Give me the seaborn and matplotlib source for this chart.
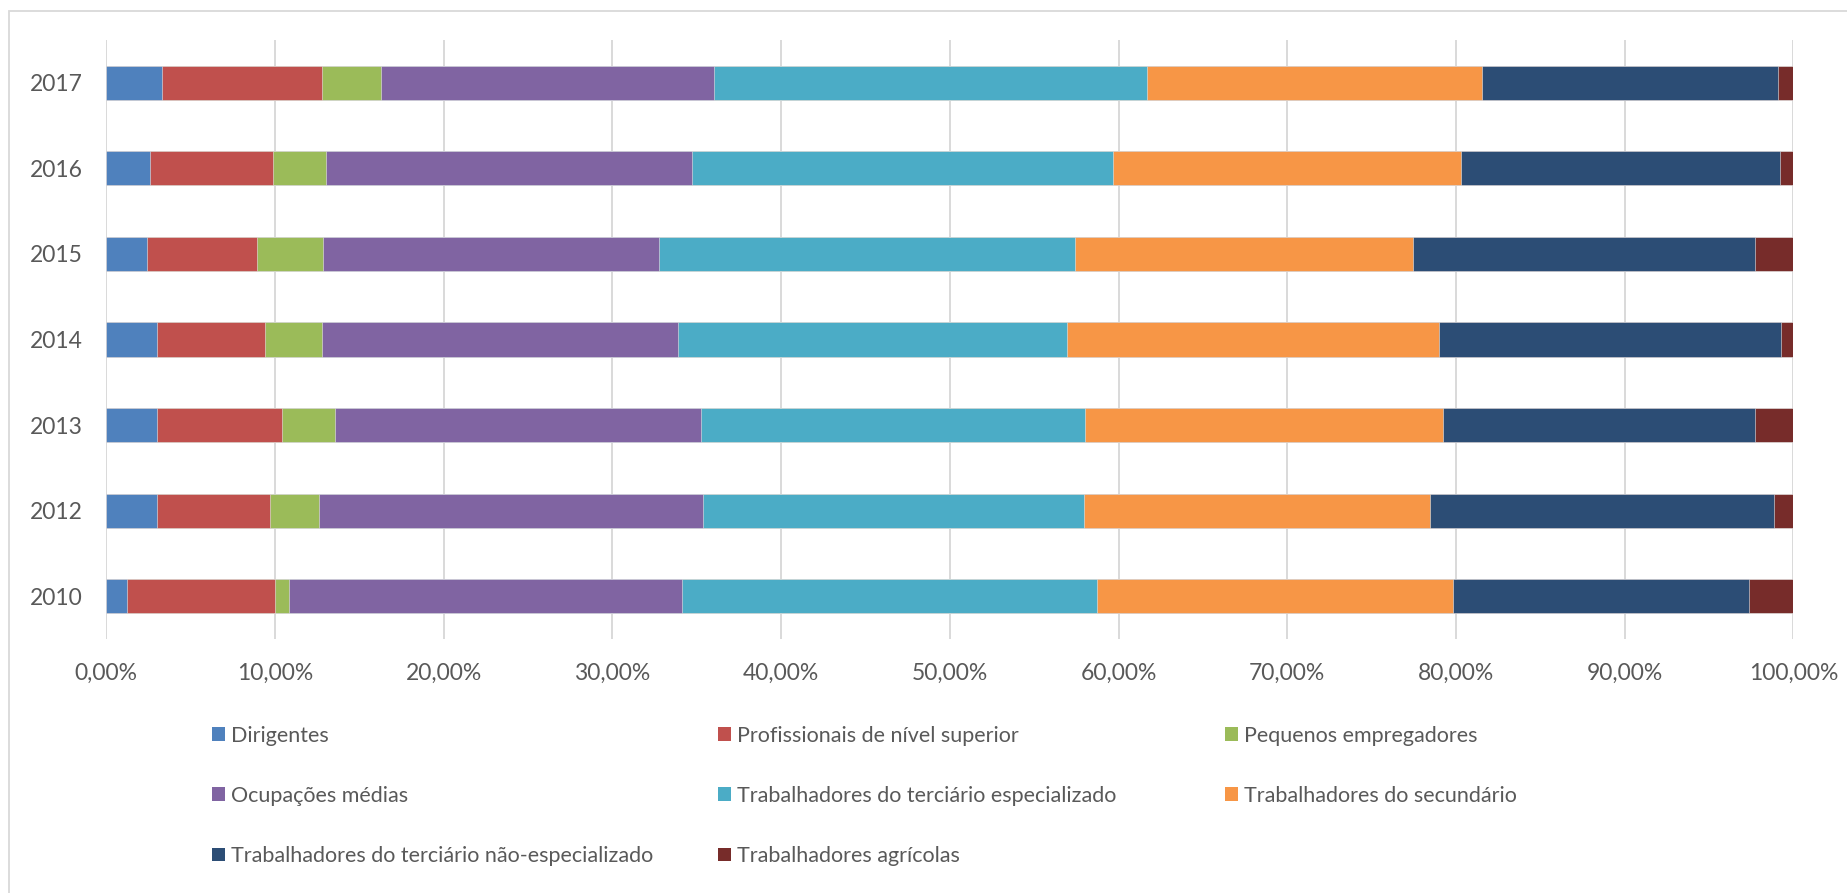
import numpy as np
import pandas as pd
import matplotlib
matplotlib.use("Agg")
import matplotlib.pyplot as plt
import seaborn as sns
from matplotlib.patches import Patch, Rectangle
from matplotlib.ticker import FuncFormatter, MultipleLocator

# ---------------- data ----------------
years = ["2017", "2016", "2015", "2014", "2013", "2012", "2010"]
series_names = [
    "Dirigentes",
    "Profissionais de nível superior",
    "Pequenos empregadores",
    "Ocupações médias",
    "Trabalhadores do terciário especializado",
    "Trabalhadores do secundário",
    "Trabalhadores do terciário não-especializado",
    "Trabalhadores agrícolas",
]
dirigentes = [3.33, 2.61, 2.42, 2.98, 2.98, 3.03, 1.20]
profissionais = [9.46, 7.27, 6.52, 6.43, 7.44, 6.69, 8.80]
pequenos = [3.50, 3.12, 3.90, 3.38, 3.15, 2.89, 0.85]
ocupacoes = [19.71, 21.73, 19.95, 21.12, 21.70, 22.78, 23.25]
terc_esp = [25.69, 24.94, 24.63, 23.02, 22.76, 22.57, 24.61]
secundario = [19.84, 20.62, 20.03, 22.09, 21.18, 20.52, 21.14]
terc_nao = [17.59, 18.93, 20.30, 20.27, 18.54, 20.35, 17.54]
agricolas = [0.88, 0.78, 2.25, 0.71, 2.25, 1.17, 2.61]

colors = ["#4F81BD", "#C0504D", "#9BBB59", "#8064A2",
          "#4BACC6", "#F79646", "#2C4D75", "#772C2A"]

values = [dirigentes, profissionais, pequenos, ocupacoes,
          terc_esp, secundario, terc_nao, agricolas]

df = pd.DataFrame({"year": years})
cum = np.zeros(len(years))
cum_cols = []
for i, v in enumerate(values):
    cum = cum + np.array(v)
    col = f"cum{i}"
    df[col] = cum
    cum_cols.append(col)

# ---------------- style ----------------
sns.set_theme(style="white")
plt.rcParams["font.family"] = ["Lato", "DejaVu Sans"]
text_color = "#595959"
grid_color = "#D9D9D9"

W, H = 1847, 893
fig = plt.figure(figsize=(W / 100, H / 100), dpi=100)
fig.patch.set_facecolor("white")
ax = fig.add_axes([106.3 / W, 1 - 639 / H, (1793.3 - 106.3) / W, (639 - 40) / H])

# stacked bars: draw cumulative totals from the last series to the first
for i in range(len(values) - 1, -1, -1):
    sns.barplot(data=df, x=cum_cols[i], y="year", order=years, orient="h",
                color=colors[i], saturation=1, width=0.4, errorbar=None,
                edgecolor="#E8E8E8", linewidth=0.4, ax=ax)

ax.set_xlim(0, 100)
ax.set_ylim(6.5, -0.5)
ax.set_xlabel("")
ax.set_ylabel("")
ax.xaxis.set_major_locator(MultipleLocator(10))
ax.xaxis.set_major_formatter(FuncFormatter(lambda v, p: f"{v:.2f}%".replace(".", ",")))
ax.grid(axis="x", color=grid_color, linewidth=1.4)
ax.grid(axis="y", visible=False)
ax.set_axisbelow(True)
for s in ax.spines.values():
    s.set_visible(False)
ax.tick_params(axis="both", length=0, labelcolor=text_color, labelsize=16.5)
ax.tick_params(axis="x", pad=17)
ax.tick_params(axis="y", pad=17)

# chart border (light grey frame, left and top visible)
fig.add_artist(Rectangle((9 / W, -0.05), 1.2, (1 - 10.7 / H) + 0.05,
                         transform=fig.transFigure, fill=False,
                         edgecolor=grid_color, linewidth=1.3))

# legend: 3 columns laid out row-wise like the original
col_x = [212, 718, 1225]
for c in range(3):
    idx = [k for k in range(len(series_names)) if k % 3 == c]
    handles = [Patch(facecolor=colors[k], edgecolor="none") for k in idx]
    labels = [series_names[k] for k in idx]
    fig.legend(handles, labels, loc="upper left",
               bbox_to_anchor=(col_x[c] / W, 1 - 726 / H),
               frameon=False, borderpad=0, borderaxespad=0,
               handlelength=0.62, handleheight=0.62, handletextpad=0.27,
               labelspacing=1.86, fontsize=15.5, labelcolor=text_color)

fig.savefig("out.png", dpi=100, facecolor="white")
